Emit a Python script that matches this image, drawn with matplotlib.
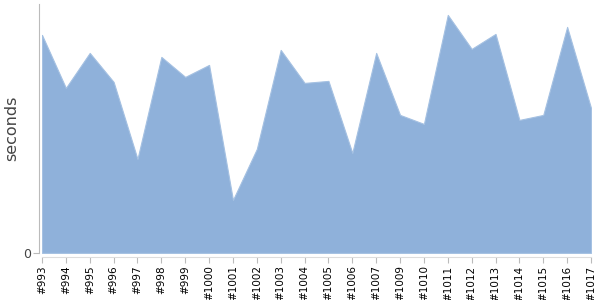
import matplotlib
matplotlib.use('Agg')
import matplotlib.pyplot as plt
import numpy as np

builds = ['#993', '#994', '#995', '#996', '#997', '#998', '#999', '#1000',
          '#1001', '#1002', '#1003', '#1004', '#1005', '#1006', '#1007',
          '#1009', '#1010', '#1011', '#1012', '#1013', '#1014', '#1015',
          '#1016', '#1017']
seconds = [218, 165, 200, 171, 94, 196, 176, 188, 53, 104, 203, 170, 172,
           100, 200, 138, 129, 238, 204, 219, 133, 138, 226, 145]

fig = plt.figure(figsize=(6, 3), dpi=100)
ax = fig.add_axes([0.07, 0.157, 0.915, 0.83])

x = np.arange(len(builds))
ax.fill_between(x, seconds, 0, color='#8fb1da', linewidth=0.8, edgecolor='#a5c1e2')

for s in ['top', 'right']:
    ax.spines[s].set_visible(False)
ax.spines['left'].set_color('#bbbbbb')
ax.spines['bottom'].set_color('#dddddd')
ax.spines['bottom'].set_position(('outward', 3))
ax.spines['left'].set_position(('outward', 2))

ax.set_xlim(0, len(builds) - 1)
ax.set_ylim(0, 249)
ax.set_xticks(x)
ax.set_xticklabels(builds)
ax.set_yticks([0])
ax.set_yticklabels(['0'])
ax.set_ylabel('seconds', fontsize=11.5, color='#444444', labelpad=3)

ax.tick_params(axis='x', color='#bbbbbb', length=4, pad=2, labelrotation=90, labelsize=7.5)
ax.tick_params(axis='y', color='#bbbbbb', length=4, pad=2, labelsize=9, labelcolor='#444444')

fig.savefig('out.png')
